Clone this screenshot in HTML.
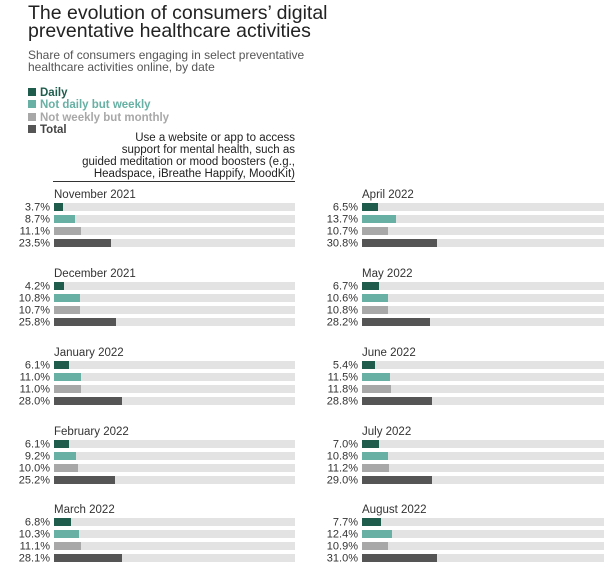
<!DOCTYPE html>
<html><head><meta charset="utf-8"><style>
body{margin:0;background:#fff;}
svg{display:block;font-family:"Liberation Sans",sans-serif;}
.t{font-size:11.5px;fill:#333;}
.l{font-size:11px;fill:#333;text-anchor:end;}
.tr{fill:#e3e3e3;}
.a{fill:#1f5c4c}.b{fill:#67b0a3}.c{fill:#a8a8a8}.d{fill:#555}
</style></head><body>
<svg width="614" height="586" viewBox="0 0 614 586">
<text x="28" y="19" font-size="19.5" fill="#222">The evolution of consumers’ digital</text>
<text x="28" y="37" font-size="19.5" fill="#222">preventative healthcare activities</text>
<text x="28" y="59" font-size="12" fill="#555">Share of consumers engaging in select preventative</text>
<text x="28" y="71" font-size="12" fill="#555">healthcare activities online, by date</text>
<rect x="28" y="88" width="8" height="8" fill="#1f5c4c"/><text x="40" y="96" font-size="11.5" font-weight="bold" fill="#1f5c4c">Daily</text>
<rect x="28" y="100" width="8" height="8" fill="#67b0a3"/><text x="40" y="108" font-size="11.5" font-weight="bold" fill="#67b0a3">Not daily but weekly</text>
<rect x="28" y="113" width="8" height="8" fill="#a8a8a8"/><text x="40" y="121" font-size="11.5" font-weight="bold" fill="#a8a8a8">Not weekly but monthly</text>
<rect x="28" y="125" width="8" height="8" fill="#555"/><text x="40" y="133" font-size="11.5" font-weight="bold" fill="#444">Total</text>
<g font-size="11.5" fill="#222" text-anchor="end">
<text x="295" y="141">Use a website or app to access</text>
<text x="295" y="153">support for mental health, such as</text>
<text x="295" y="165">guided meditation or mood boosters (e.g.,</text>
<text x="295" y="177">Headspace, iBreathe Happify, MoodKit)</text>
</g>
<line x1="53" y1="181.5" x2="295" y2="181.5" stroke="#333" stroke-width="1"/>

<!-- LEFT -->
<g transform="translate(54,194)"><text class="t" x="0" y="4">November 2021</text>
<rect class="tr" x="0" y="9" width="241" height="8"/><rect class="a" x="0" y="9" width="9" height="8"/><text class="l" x="-4" y="16.5">3.7%</text>
<rect class="tr" x="0" y="21" width="241" height="8"/><rect class="b" x="0" y="21" width="21" height="8"/><text class="l" x="-4" y="28.5">8.7%</text>
<rect class="tr" x="0" y="33" width="241" height="8"/><rect class="c" x="0" y="33" width="27" height="8"/><text class="l" x="-4" y="40.5">11.1%</text>
<rect class="tr" x="0" y="45" width="241" height="8"/><rect class="d" x="0" y="45" width="57" height="8"/><text class="l" x="-4" y="52.5">23.5%</text></g>

<g transform="translate(54,273)"><text class="t" x="0" y="4">December 2021</text>
<rect class="tr" x="0" y="9" width="241" height="8"/><rect class="a" x="0" y="9" width="10" height="8"/><text class="l" x="-4" y="16.5">4.2%</text>
<rect class="tr" x="0" y="21" width="241" height="8"/><rect class="b" x="0" y="21" width="26" height="8"/><text class="l" x="-4" y="28.5">10.8%</text>
<rect class="tr" x="0" y="33" width="241" height="8"/><rect class="c" x="0" y="33" width="26" height="8"/><text class="l" x="-4" y="40.5">10.7%</text>
<rect class="tr" x="0" y="45" width="241" height="8"/><rect class="d" x="0" y="45" width="62" height="8"/><text class="l" x="-4" y="52.5">25.8%</text></g>

<g transform="translate(54,352)"><text class="t" x="0" y="4">January 2022</text>
<rect class="tr" x="0" y="9" width="241" height="8"/><rect class="a" x="0" y="9" width="15" height="8"/><text class="l" x="-4" y="16.5">6.1%</text>
<rect class="tr" x="0" y="21" width="241" height="8"/><rect class="b" x="0" y="21" width="27" height="8"/><text class="l" x="-4" y="28.5">11.0%</text>
<rect class="tr" x="0" y="33" width="241" height="8"/><rect class="c" x="0" y="33" width="27" height="8"/><text class="l" x="-4" y="40.5">11.0%</text>
<rect class="tr" x="0" y="45" width="241" height="8"/><rect class="d" x="0" y="45" width="68" height="8"/><text class="l" x="-4" y="52.5">28.0%</text></g>

<g transform="translate(54,431)"><text class="t" x="0" y="4">February 2022</text>
<rect class="tr" x="0" y="9" width="241" height="8"/><rect class="a" x="0" y="9" width="15" height="8"/><text class="l" x="-4" y="16.5">6.1%</text>
<rect class="tr" x="0" y="21" width="241" height="8"/><rect class="b" x="0" y="21" width="22" height="8"/><text class="l" x="-4" y="28.5">9.2%</text>
<rect class="tr" x="0" y="33" width="241" height="8"/><rect class="c" x="0" y="33" width="24" height="8"/><text class="l" x="-4" y="40.5">10.0%</text>
<rect class="tr" x="0" y="45" width="241" height="8"/><rect class="d" x="0" y="45" width="61" height="8"/><text class="l" x="-4" y="52.5">25.2%</text></g>

<g transform="translate(54,509)"><text class="t" x="0" y="4">March 2022</text>
<rect class="tr" x="0" y="9" width="241" height="8"/><rect class="a" x="0" y="9" width="17" height="8"/><text class="l" x="-4" y="16.5">6.8%</text>
<rect class="tr" x="0" y="21" width="241" height="8"/><rect class="b" x="0" y="21" width="25" height="8"/><text class="l" x="-4" y="28.5">10.3%</text>
<rect class="tr" x="0" y="33" width="241" height="8"/><rect class="c" x="0" y="33" width="27" height="8"/><text class="l" x="-4" y="40.5">11.1%</text>
<rect class="tr" x="0" y="45" width="241" height="8"/><rect class="d" x="0" y="45" width="68" height="8"/><text class="l" x="-4" y="52.5">28.1%</text></g>

<!-- RIGHT -->
<g transform="translate(362,194)"><text class="t" x="0" y="4">April 2022</text>
<rect class="tr" x="0" y="9" width="242" height="8"/><rect class="a" x="0" y="9" width="16" height="8"/><text class="l" x="-4" y="16.5">6.5%</text>
<rect class="tr" x="0" y="21" width="242" height="8"/><rect class="b" x="0" y="21" width="34" height="8"/><text class="l" x="-4" y="28.5">13.7%</text>
<rect class="tr" x="0" y="33" width="242" height="8"/><rect class="c" x="0" y="33" width="26" height="8"/><text class="l" x="-4" y="40.5">10.7%</text>
<rect class="tr" x="0" y="45" width="242" height="8"/><rect class="d" x="0" y="45" width="75" height="8"/><text class="l" x="-4" y="52.5">30.8%</text></g>

<g transform="translate(362,273)"><text class="t" x="0" y="4">May 2022</text>
<rect class="tr" x="0" y="9" width="242" height="8"/><rect class="a" x="0" y="9" width="17" height="8"/><text class="l" x="-4" y="16.5">6.7%</text>
<rect class="tr" x="0" y="21" width="242" height="8"/><rect class="b" x="0" y="21" width="26" height="8"/><text class="l" x="-4" y="28.5">10.6%</text>
<rect class="tr" x="0" y="33" width="242" height="8"/><rect class="c" x="0" y="33" width="26" height="8"/><text class="l" x="-4" y="40.5">10.8%</text>
<rect class="tr" x="0" y="45" width="242" height="8"/><rect class="d" x="0" y="45" width="68" height="8"/><text class="l" x="-4" y="52.5">28.2%</text></g>

<g transform="translate(362,352)"><text class="t" x="0" y="4">June 2022</text>
<rect class="tr" x="0" y="9" width="242" height="8"/><rect class="a" x="0" y="9" width="13" height="8"/><text class="l" x="-4" y="16.5">5.4%</text>
<rect class="tr" x="0" y="21" width="242" height="8"/><rect class="b" x="0" y="21" width="28" height="8"/><text class="l" x="-4" y="28.5">11.5%</text>
<rect class="tr" x="0" y="33" width="242" height="8"/><rect class="c" x="0" y="33" width="29" height="8"/><text class="l" x="-4" y="40.5">11.8%</text>
<rect class="tr" x="0" y="45" width="242" height="8"/><rect class="d" x="0" y="45" width="70" height="8"/><text class="l" x="-4" y="52.5">28.8%</text></g>

<g transform="translate(362,431)"><text class="t" x="0" y="4">July 2022</text>
<rect class="tr" x="0" y="9" width="242" height="8"/><rect class="a" x="0" y="9" width="17" height="8"/><text class="l" x="-4" y="16.5">7.0%</text>
<rect class="tr" x="0" y="21" width="242" height="8"/><rect class="b" x="0" y="21" width="26" height="8"/><text class="l" x="-4" y="28.5">10.8%</text>
<rect class="tr" x="0" y="33" width="242" height="8"/><rect class="c" x="0" y="33" width="27" height="8"/><text class="l" x="-4" y="40.5">11.2%</text>
<rect class="tr" x="0" y="45" width="242" height="8"/><rect class="d" x="0" y="45" width="70" height="8"/><text class="l" x="-4" y="52.5">29.0%</text></g>

<g transform="translate(362,509)"><text class="t" x="0" y="4">August 2022</text>
<rect class="tr" x="0" y="9" width="242" height="8"/><rect class="a" x="0" y="9" width="19" height="8"/><text class="l" x="-4" y="16.5">7.7%</text>
<rect class="tr" x="0" y="21" width="242" height="8"/><rect class="b" x="0" y="21" width="30" height="8"/><text class="l" x="-4" y="28.5">12.4%</text>
<rect class="tr" x="0" y="33" width="242" height="8"/><rect class="c" x="0" y="33" width="26" height="8"/><text class="l" x="-4" y="40.5">10.9%</text>
<rect class="tr" x="0" y="45" width="242" height="8"/><rect class="d" x="0" y="45" width="75" height="8"/><text class="l" x="-4" y="52.5">31.0%</text></g>
</svg>
</body></html>
